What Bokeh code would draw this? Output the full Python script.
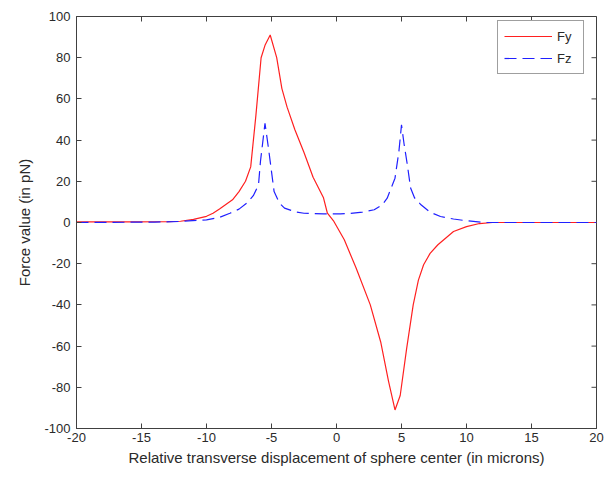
import math
from bokeh.plotting import figure
from bokeh.models import Range1d, FixedTicker, Legend, LegendItem
from bokeh.embed import file_html
from bokeh.resources import INLINE

# Data
fy_x = [-20, -16, -13, -12, -11, -10, -9.5, -9, -8, -7.5, -7, -6.6, -6.2, -5.8, -5.5,
        -5.1, -4.6, -4.2, -3.8, -3.2, -2.5, -1.8, -1.0, -0.7, -0.2, 0.6, 1.5, 2.6, 3.4,
        4.0, 4.5, 4.9, 5.4, 5.9, 6.3, 6.7, 7.2, 7.8, 9.0, 10, 11, 12, 20]
fy_y = [0.3, 0.3, 0.4, 0.6, 1.5, 3, 4.5, 6.5, 11, 15, 20, 27, 52, 80, 86,
        91, 80, 65, 56, 45, 34, 22, 12, 4.5, 0.5, -8.4, -22, -40, -58,
        -77, -91, -84, -61, -40, -28, -20.5, -15, -10.8, -4.4, -2, -0.5, 0, 0]

fz_x = [-20, -14, -12, -10, -9, -8.2, -7.5, -6.9, -6.4, -6.0, -5.85, -5.5, -5.2, -4.8,
        -4.4, -4.0, -3.2, -2.5, -1, 0.3, 0.8, 2, 2.9, 3.5, 3.9, 4.5, 4.8, 5.0, 5.2,
        5.45, 5.7, 6.0, 6.5, 7.2, 8.0, 9.0, 9.8, 11.3, 20]
fz_y = [0, 0.2, 0.5, 1.3, 2.5, 4.5, 6.5, 9.4, 13, 18.3, 29.6, 48.2, 34.5, 15,
        9.5, 7, 5.2, 4.5, 4.2, 4.2, 4.3, 5, 6.2, 8.5, 11.8, 21.5, 34.5, 47.4, 38,
        28, 16.7, 12, 8.6, 5, 2.9, 1.7, 1, 0, 0]

x_ticks = [-20, -15, -10, -5, 0, 5, 10, 15, 20]
y_ticks = [-100, -80, -60, -40, -20, 0, 20, 40, 60, 80, 100]

FONT = "Liberation Sans"
TXT = "#2a2a2a"
AX = "#404040"

X0, X1, Y0, Y1 = -20, 20, -100, 100

p = figure(width=606, height=479, x_range=Range1d(X0, X1), y_range=Range1d(Y0, Y1),
           output_backend="svg", toolbar_location=None,
           min_border_left=76, min_border_right=10, min_border_top=16, min_border_bottom=51)
p.xgrid.visible = False
p.ygrid.visible = False
p.outline_line_color = AX
p.background_fill_color = "white"
p.border_fill_color = "white"

for ax in (p.xaxis[0], p.yaxis[0]):
    ax.major_tick_in = 5
    ax.major_tick_out = 0
    ax.minor_tick_line_color = None
    ax.axis_line_color = AX
    ax.major_tick_line_color = AX
    ax.major_label_text_font = FONT
    ax.major_label_text_color = TXT
    ax.major_label_text_font_size = "13px"
    ax.axis_label_text_font = FONT
    ax.axis_label_text_color = TXT
    ax.axis_label_text_font_style = "normal"
    ax.axis_label_text_font_size = "15px"

p.xaxis.ticker = FixedTicker(ticks=x_ticks)
p.yaxis.ticker = FixedTicker(ticks=y_ticks)
p.xaxis.major_label_overrides = {t: str(t) for t in x_ticks}
p.yaxis.major_label_overrides = {t: str(t) for t in y_ticks}
p.xaxis.axis_label = "Relative transverse displacement of sphere center (in microns)"
p.yaxis.axis_label = "Force value (in pN)"
p.xaxis.major_label_standoff = 4
p.xaxis.axis_label_standoff = 4
p.yaxis.major_label_standoff = 6
p.yaxis.axis_label_standoff = 8

# mirrored ticks on top and right edges (box style), clipped to the frame
p.scatter(x=x_ticks, y=[Y1] * len(x_ticks), marker="dash", size=10, angle=math.pi / 2,
          line_color=AX, line_width=1)
p.scatter(x=[X1] * len(y_ticks), y=y_ticks, marker="dash", size=10, angle=0,
          line_color=AX, line_width=1)

r_fy = p.line(fy_x, fy_y, line_color="#ff2020", line_width=1.2)
r_fz = p.line(fz_x, fz_y, line_color="#2020ff", line_width=1.2, line_dash="12 6")

legend = Legend(items=[LegendItem(label="Fy", renderers=[r_fy]),
                       LegendItem(label="Fz", renderers=[r_fz])],
                location=(421, 354))
legend.label_text_font = FONT
legend.label_text_font_size = "13px"
legend.label_text_color = TXT
legend.glyph_width = 48
legend.glyph_height = 18
legend.label_height = 18
legend.label_standoff = 5
legend.padding = 6
legend.spacing = 4
legend.margin = 0
legend.border_line_color = AX
legend.border_line_width = 1
legend.background_fill_color = "white"
legend.background_fill_alpha = 1
p.add_layout(legend, "center")

open("out.html", "w").write(file_html(p, INLINE))
